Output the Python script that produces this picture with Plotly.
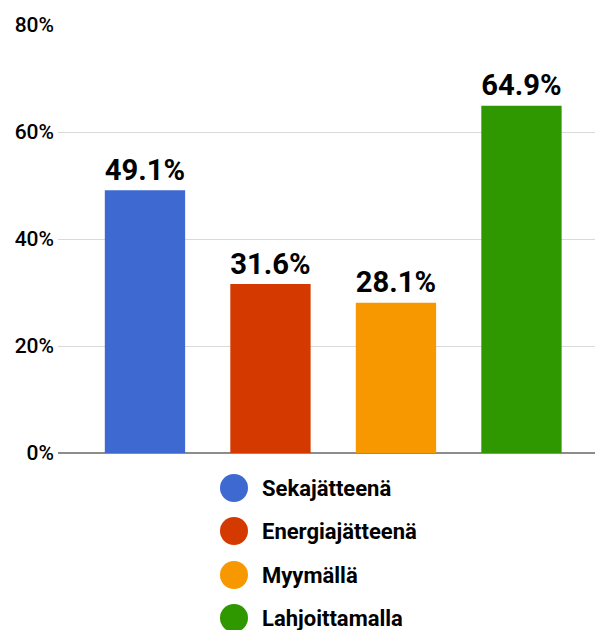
import plotly.graph_objects as go

categories = ["Sekajätteenä", "Energiajätteenä", "Myymällä", "Lahjoittamalla"]
values = [49.1, 31.6, 28.1, 64.9]
colors = ["#3d69d1", "#d43a00", "#f79800", "#2f9700"]
tick_vals = [0, 20, 40, 60, 80]
tick_text = ["0%", "20%", "40%", "60%", "80%"]

W, H = 595, 630
ml, mr, mt, mb = 58, 0, 25, 177
pw, ph = W - ml - mr, H - mt - mb

fig = go.Figure()
fig.add_trace(go.Bar(
    x=categories, y=values,
    marker=dict(color=colors, line=dict(width=0)),
    text=[f"{v:.1f}%" for v in values],
    textposition="outside",
    textfont=dict(family="Roboto", size=32, color="#000000", weight="bold"),
    cliponaxis=False,
    showlegend=False,
))

shapes = []
annotations = []
legend_y_px = [488, 531, 575, 618]
for name, col, ypx in zip(categories, colors, legend_y_px):
    yp = (H - mb - ypx) / ph
    xc = (234 - ml) / pw
    shapes.append(dict(type="circle", xref="paper", yref="paper",
                       xsizemode="pixel", ysizemode="pixel",
                       xanchor=xc, yanchor=yp, x0=-14, x1=14, y0=-14, y1=14,
                       fillcolor=col, line=dict(width=0)))
    annotations.append(dict(x=(260 - ml) / pw, y=yp, xref="paper", yref="paper",
                            text=name, showarrow=False, xanchor="left", yanchor="middle",
                            font=dict(family="Roboto", size=22, color="#000000", weight="bold")))

fig.update_layout(
    width=W, height=H,
    margin=dict(l=ml, r=mr, t=mt, b=mb, pad=0),
    paper_bgcolor="white", plot_bgcolor="white",
    bargap=0.36,
    shapes=shapes, annotations=annotations,
    xaxis=dict(showticklabels=False, showgrid=False, zeroline=False,
               range=[-0.693, 3.586], showline=False),
    yaxis=dict(range=[0, 80], tickvals=tick_vals, ticktext=tick_text,
               showgrid=True, gridcolor="#d9d9d9", gridwidth=1,
               zeroline=True, zerolinecolor="#8c8c8c", zerolinewidth=2,
               ticks="", ticklabelstandoff=3,
               tickfont=dict(family="Roboto", size=21, color="#000000", weight=500)),
)

fig.write_html("out.html", config={"displayModeBar": False},
               post_script="document.body.style.margin='0';document.body.style.overflow='hidden';")
